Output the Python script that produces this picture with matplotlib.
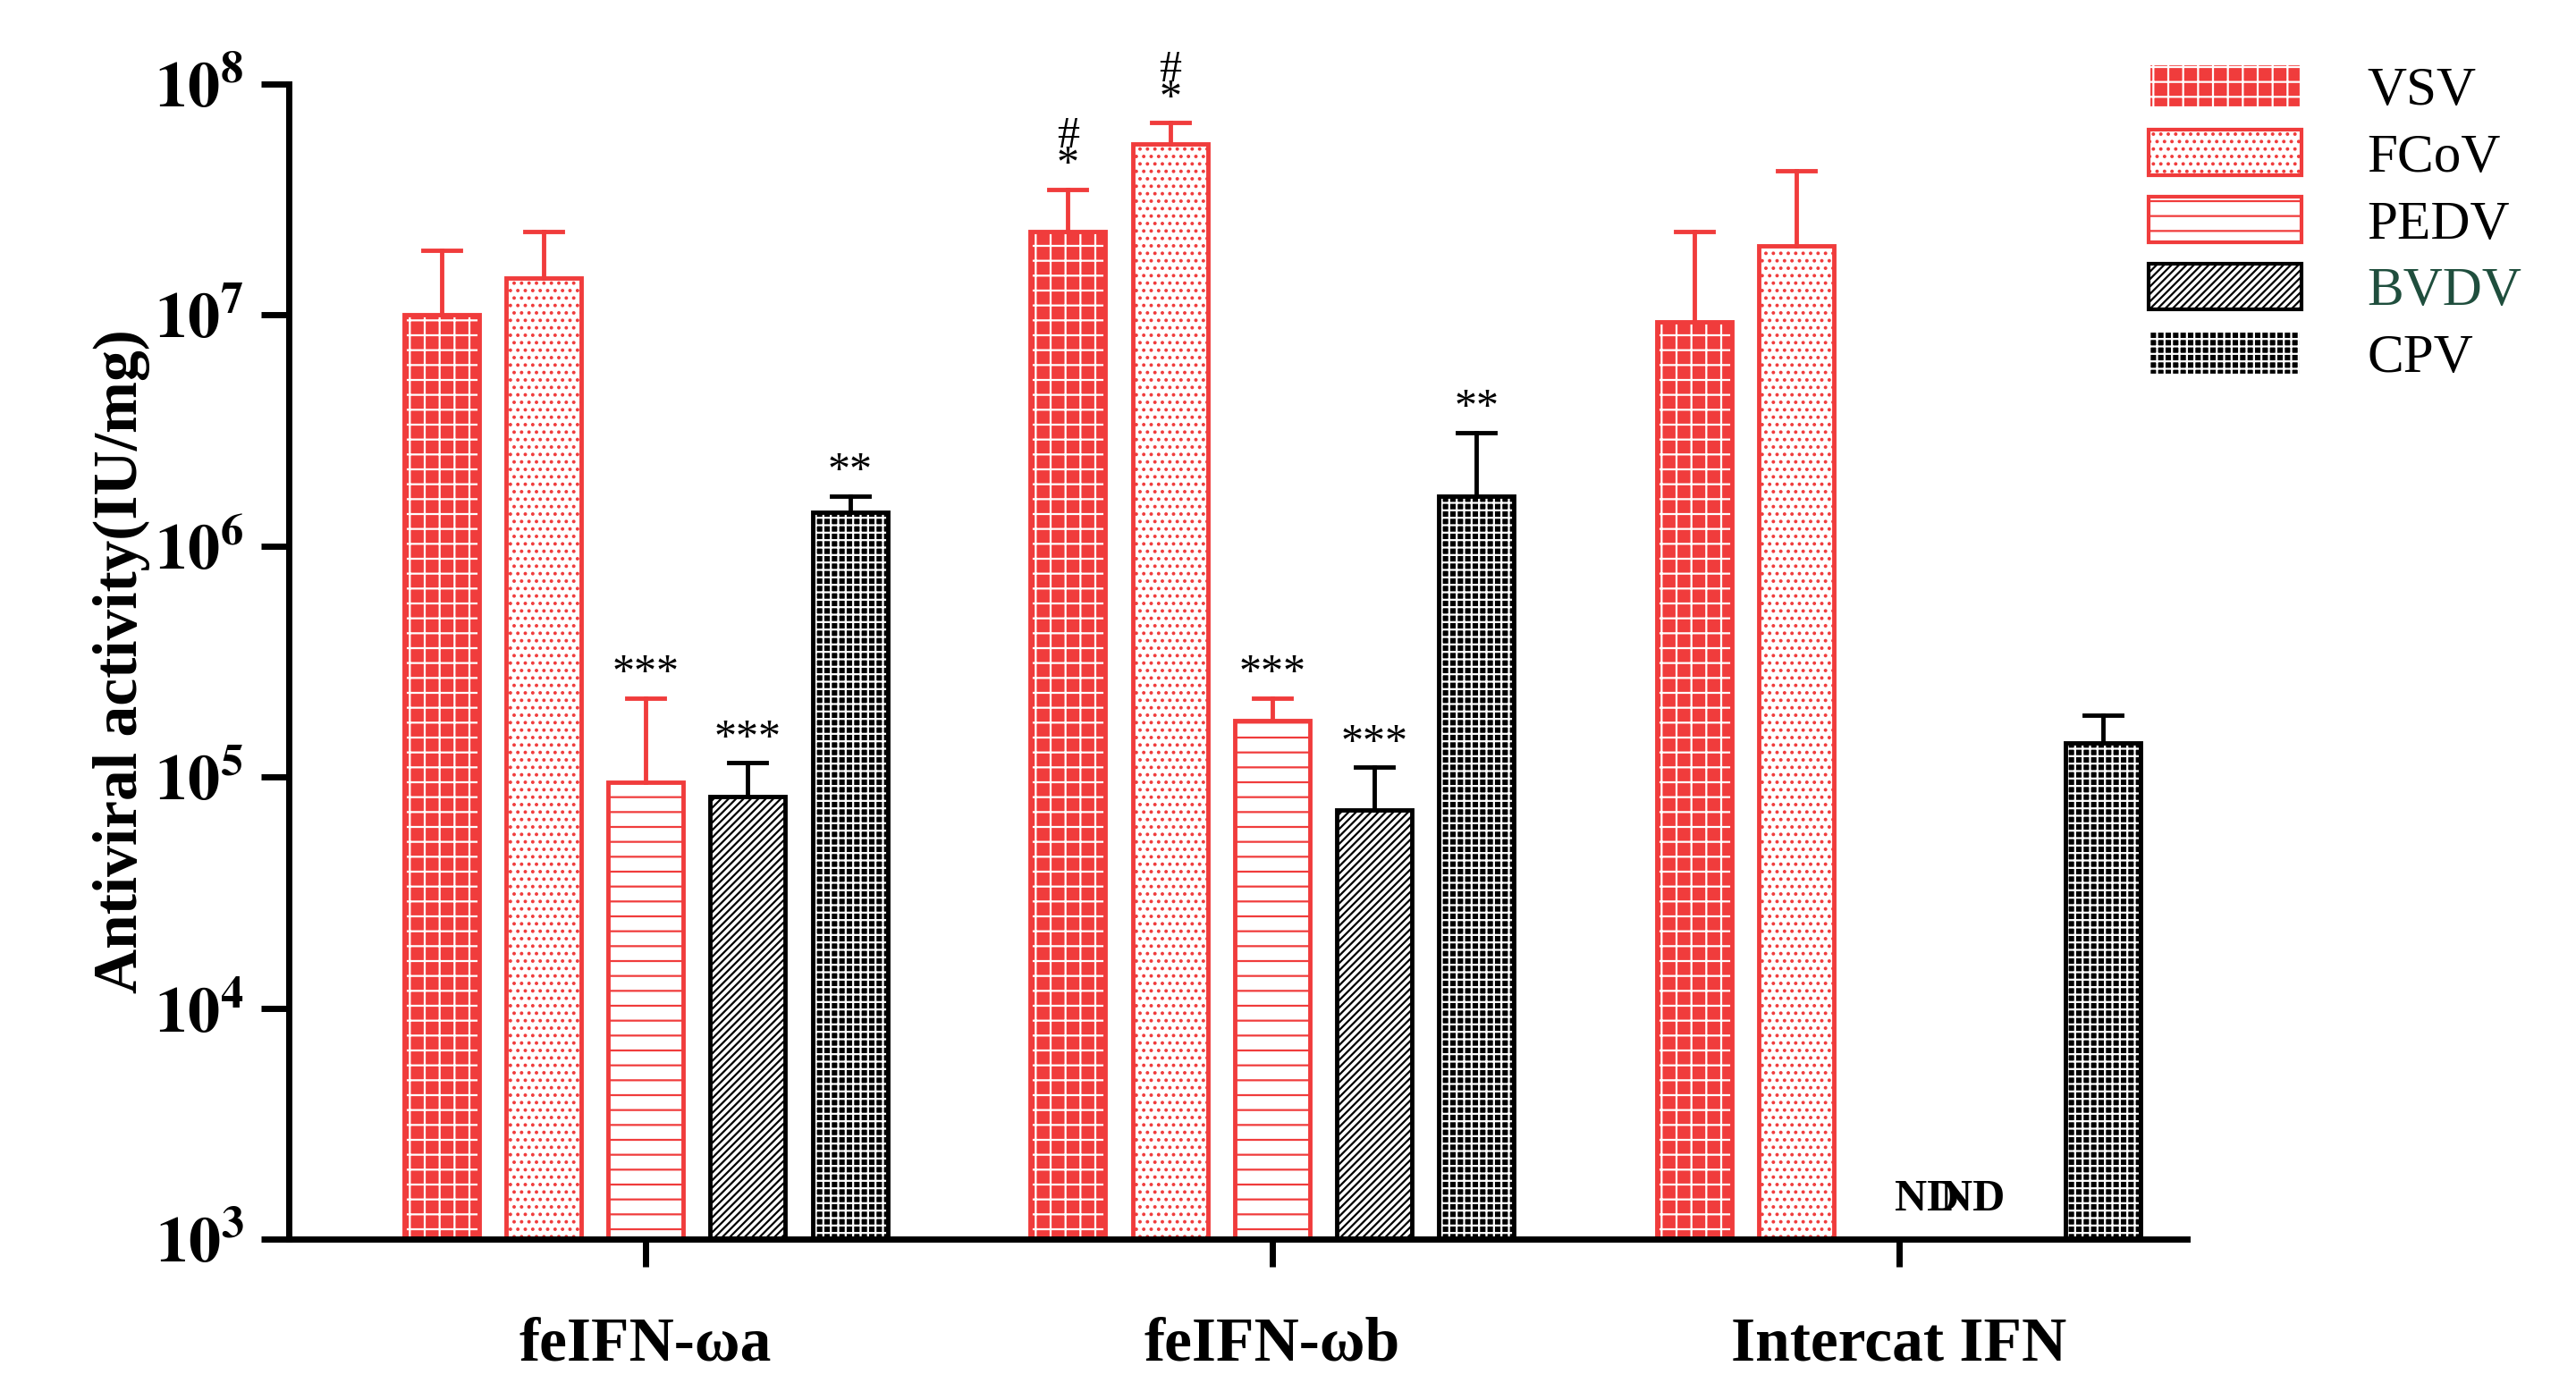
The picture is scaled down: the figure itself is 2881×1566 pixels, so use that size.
import matplotlib
matplotlib.use("Agg")
import matplotlib.pyplot as plt
from matplotlib.patches import Patch
import numpy as np

plt.rcParams['font.family'] = ['Liberation Serif', 'DejaVu Serif']
plt.rcParams['mathtext.fontset'] = 'stix'
plt.rcParams['hatch.linewidth'] = 1.6

groups = ['feIFN-ωa', 'feIFN-ωb', 'Intercat IFN']
viruses = ['VSV', 'FCoV', 'PEDV', 'BVDV', 'CPV']
vsv = [1.0e7, 2.3e7, 9.3e6]
fcov = [1.45e7, 5.5e7, 2.0e7]
pedv = [9.5e4, 1.75e5, np.nan]
bvdv = [8.2e4, 7.2e4, np.nan]
cpv = [1.4e6, 1.65e6, 1.4e5]
vsv_top = [1.9e7, 3.5e7, 2.3e7]
fcov_top = [2.3e7, 6.8e7, 4.2e7]
pedv_top = [2.2e5, 2.2e5, np.nan]
bvdv_top = [1.15e5, 1.1e5, np.nan]
cpv_top = [1.65e6, 3.1e6, 1.85e5]
marks = [['', '#\n*', ''], ['', '#\n*', ''], ['***', '***', 'ND'],
         ['***', '***', 'ND'], ['**', '**', '']]

values = [vsv, fcov, pedv, bvdv, cpv]
tops = [vsv_top, fcov_top, pedv_top, bvdv_top, cpv_top]
red = '#f03c3c'
styles = [  # face, hatch color, hatch, outline
    (red, 'white', '+', red),
    ('white', red, '..', red),
    ('white', red, '-', red),
    ('white', 'black', '////', 'black'),
    ('black', 'white', '++', 'black'),
]

fig, ax = plt.subplots(figsize=(28.81, 15.66), dpi=100)
fig.subplots_adjust(left=0.112, right=0.849, top=0.94, bottom=0.115)
base = 1e3
x = np.arange(len(groups))
step, width = 0.163, 0.12
for i, v in enumerate(viruses):
    face, hc, hatch, edge = styles[i]
    pos = x + (i - 2) * step
    vals = np.array(values[i])
    ok = ~np.isnan(vals)
    ax.bar(pos[ok], vals[ok] - base, width, bottom=base, color=face,
           edgecolor=hc, hatch=hatch, linewidth=0)
    ax.bar(pos[ok], vals[ok] - base, width, bottom=base, fill=False,
           edgecolor=edge, linewidth=3.5)
    for p, val, t in zip(pos[ok], vals[ok], np.array(tops[i])[ok]):
        ax.plot([p, p], [val, t], color=edge, lw=3.5)
        ax.plot([p - width / 4, p + width / 4], [t, t], color=edge, lw=3.5)
    for j in range(len(groups)):
        m = marks[i][j]
        if m == 'ND':
            off = 0.045 if i == 2 else -0.045
            ax.text(pos[j] + off, 1.2e3, 'ND', ha='center', va='bottom',
                    fontsize=36, fontweight='bold')
        elif m:
            ax.text(pos[j], tops[i][j] * 1.03, m, ha='center', va='bottom',
                    fontsize=36, linespacing=0.6)

handles = [Patch(facecolor=s[0], edgecolor=s[1] if s[0] != 'white' else s[3],
                 hatch=s[2], lw=3) for s in styles]
leg = fig.legend(handles, viruses, loc='upper right', bbox_to_anchor=(0.998, 0.99),
                 frameon=False, fontsize=44, handlelength=2.8, handleheight=0.9,
                 labelspacing=0.25, handletextpad=1.2)
leg.get_texts()[3].set_color('#1f4e3d')

ax.set_yscale('log')
ax.set_ylim(1e3, 1e8)
ax.set_xlim(-0.57, 2.46)
ax.set_xticks(x)
ax.set_xticklabels(groups, fontsize=50, fontweight='bold')
ax.set_yticks([1e3, 1e4, 1e5, 1e6, 1e7, 1e8])
ax.set_yticklabels([f'$\\mathbf{{10^{k}}}$' for k in range(3, 9)], fontsize=52)
ax.minorticks_off()
ax.tick_params(width=5, length=22, pad=14)
ax.tick_params(axis='x', pad=40)
ax.set_ylabel('Antiviral activity(IU/mg)', fontsize=50, fontweight='bold')
for s in ['top', 'right']:
    ax.spines[s].set_visible(False)
for s in ['left', 'bottom']:
    ax.spines[s].set_linewidth(5)
fig.savefig('out.png')
